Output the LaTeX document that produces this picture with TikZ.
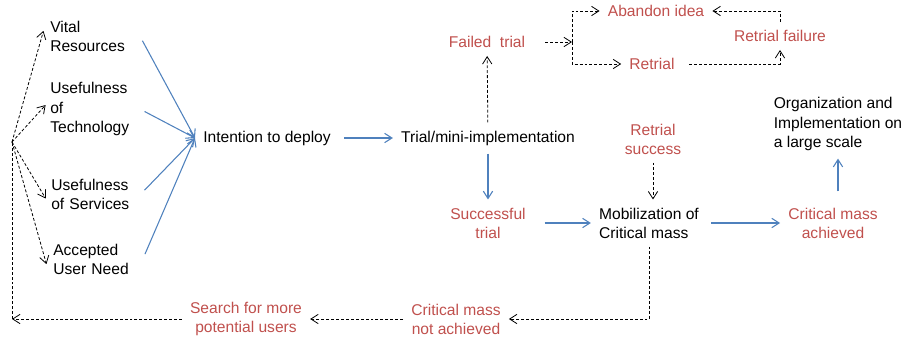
\documentclass[tikz,border=0pt]{standalone}
\usepackage{fontspec}
\setmainfont{Liberation Sans}
\usetikzlibrary{arrows.meta}
\definecolor{pptred}{RGB}{192,80,77}
\definecolor{pptblue}{RGB}{79,129,189}
\tikzset{
	node_txt/.style = {
		align=center,
		inner sep=6pt,
		font=\fontsize{11.7}{14.3}\selectfont
	},
	node_red/.style = {
		node_txt,
		text=pptred
	},
	node_left/.style = {
		node_txt,
		align=left,
		anchor=west,
		text width=61pt
	},
	edge_blue/.style = {
		->,
		draw=pptblue,
		line width=0.8pt
	},
	edge_dash/.style = {
		->,
		draw=black,
		line width=0.6pt,
		dash pattern=on 2.2pt off 1.5pt
	},
}

\begin{document}
\begin{tikzpicture}[x=0.75pt, y=-0.75pt, >={Straight Barb[length=5.5pt,width=7pt]}]
\useasboundingbox (0,0) rectangle (904,339);
% left column
\node [node_left] (vital) at (42,36) {Vital\\Resources};
\node [node_left] (tech) at (42,109) {Usefulness\\of\\Technology};
\node [node_left] (serv) at (43,194) {Usefulness\\of Services};
\node [node_left] (need) at (45,259) {Accepted\\User Need};
\coordinate (hub) at (12,142);
% main line
\node [node_txt] (intent) at (267,138) {Intention to deploy};
\node [node_txt] (trial) at (488,138) {Trial/mini-implementation};
\node [node_red] (failed) at (487,42) {Failed\ \ trial};
\coordinate (split) at (572,42);
\node [node_red] (abandon) at (656,11) {Abandon idea};
\node [node_red] (retrial) at (652,64) {Retrial};
\node [node_red] (rfail) at (780,36) {Retrial failure};
\node [node_red] (success) at (488,223) {Successful\\trial};
\node [node_red] (rsucc) at (653,139) {Retrial\\success};
\node [node_txt, align=left] (mob) at (649,223) {Mobilization of\\Critical mass};
\node [node_red] (cma) at (833,223) {Critical mass\\achieved};
\node [node_txt, align=left] (org) at (838,124) {Organization and\\Implementation on\\a large scale};
\node [node_red] (cmna) at (456,319) {Critical mass\\not achieved};
\node [node_red] (search) at (246,319) {Search for more\\potential users};

\foreach \n in {vital,tech,serv,need}
	\draw [edge_blue, shorten <=4pt] (\n.east) -- (intent.west);
\foreach \n in {vital,tech,serv,need}
	\draw [edge_dash, shorten >=-4pt] (hub) -- (\n.west);
\draw [edge_blue, shorten <=4pt] (intent) -- (trial);
\draw [edge_dash] (trial) -- (failed);
\draw [edge_blue] (trial) -- (success);
\draw [edge_dash, shorten <=9pt] (failed) -- (split);
\draw [edge_dash] (split) |- (abandon);
\draw [edge_dash] (split) |- (retrial);
\draw [edge_dash, shorten <=5pt] (retrial) -| (rfail);
\draw [edge_dash] (rfail) |- (abandon);
\draw [edge_blue, shorten <=8pt] (success) -- (mob);
\draw [edge_dash] (rsucc) -- (rsucc |- mob.north);
\draw [edge_blue, shorten <=3pt] (mob) -- (cma);
\draw [edge_blue, shorten <=6pt] (cma.north -| org.south) -- (org.south);
\draw [edge_dash] (mob.south) |- (cmna);
\draw [edge_dash] (cmna) -- (search);
\draw [edge_dash] (search) -- (search -| hub);
\draw [edge_dash, -] (search -| hub) -- (hub);
\end{tikzpicture}
\end{document}
